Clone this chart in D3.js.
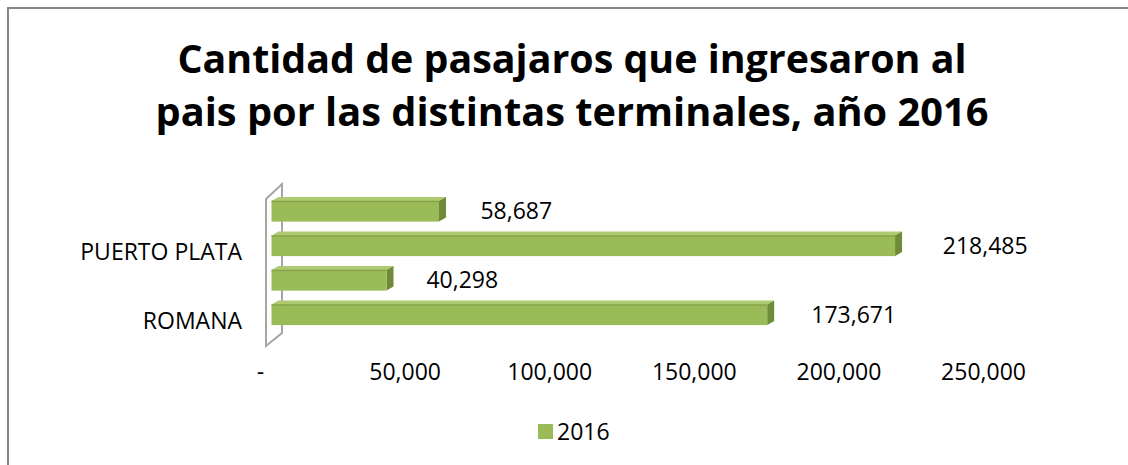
<!DOCTYPE html>
<html>
<head>
<meta charset="utf-8">
<script src="https://cdn.jsdelivr.net/npm/d3@7"></script>
<style>
  body { margin: 0; background: #fff; }
  text { font-family: "Open Sans", sans-serif; fill: #000; }
</style>
</head>
<body>
<svg id="chart" width="1128" height="465"></svg>
<script>
// data, top bar first (as drawn)
var categories = ["", "PUERTO PLATA", "", "ROMANA"];
var values2016 = [58687, 218485, 40298, 173671];
var xTicks = [0, 50000, 100000, 150000, 200000, 250000];
var seriesName = "2016";
var titleLines = ["Cantidad de pasajaros que ingresaron al",
                  "pais por las distintas terminales, año 2016"];

var svg = d3.select("#chart");

// outer border
svg.append("rect").attr("x", 8).attr("y", 8).attr("width", 1140).attr("height", 480)
    .attr("fill", "#fff").attr("stroke", "#868686").attr("stroke-width", 2);

// title
var titleWidths = [789, 833];
svg.selectAll("text.title").data(titleLines).enter().append("text")
    .attr("class", "title")
    .attr("x", 572).attr("y", function (d, i) { return 73 + i * 53; })
    .attr("text-anchor", "middle")
    .style("font-weight", "bold").style("font-size", "39px")
    .text(function (d) { return d; })
    .each(function (d, i) {
        var w = this.getComputedTextLength();
        if (Math.abs(w - titleWidths[i]) > 4) {
            d3.select(this).attr("textLength", titleWidths[i]).attr("lengthAdjust", "spacingAndGlyphs");
        }
    });

// scales
var x = d3.scaleLinear().domain([0, 250000]).range([271.5, 985]);
var xLabel = d3.scaleLinear().domain([0, 250000]).range([260, 983]);      // projected tick labels
var valLabel = d3.scaleLinear().domain([0, 250000]).range([344, 1077.75]); // projected data labels
var y = d3.scaleBand().domain(d3.range(categories.length))
    .range([194, 332]).paddingInner(0.4).paddingOuter(0.2);

var dx = 7, dy = 4; // bar depth

// 3D wall
var x0 = x(0);
var wallTop = y.range()[0] + 5, wallBot = y.range()[1] + 14;
svg.append("path")
    .attr("d", "M" + (x0 - 5.5) + "," + wallTop + "L" + (x0 + 10.5) + "," + (wallTop - 15) +
        "L" + (x0 + 10.5) + "," + (wallBot - 13) + "L" + (x0 - 5.5) + "," + wallBot + "Z")
    .attr("fill", "none").attr("stroke", "#a6a6a6").attr("stroke-width", 2);

// bars
var bars = svg.selectAll("g.bar").data(values2016).enter().append("g").attr("class", "bar");
bars.append("path") // top face
    .attr("d", function (d, i) {
        var t = y(i), xe = x(d);
        return "M" + x0 + "," + t + "L" + (x0 + dx) + "," + (t - dy) + "L" + (xe + dx) + "," + (t - dy) + "L" + xe + "," + t + "Z";
    })
    .attr("fill", "#aecb72");
bars.append("path") // side face
    .attr("d", function (d, i) {
        var t = y(i), b = t + y.bandwidth(), xe = x(d);
        return "M" + xe + "," + t + "L" + (xe + dx) + "," + (t - dy) + "L" + (xe + dx) + "," + (b - dy) + "L" + xe + "," + b + "Z";
    })
    .attr("fill", "#6f8b37");
bars.append("rect") // front face
    .attr("x", x0).attr("y", function (d, i) { return y(i); })
    .attr("width", function (d) { return x(d) - x0; })
    .attr("height", y.bandwidth())
    .attr("fill", "#9bbb59");
bars.append("line")
    .attr("x1", x0).attr("x2", function (d) { return x(d); })
    .attr("y1", function (d, i) { return y(i) + 0.5; }).attr("y2", function (d, i) { return y(i) + 0.5; })
    .attr("stroke", "#86a447").attr("stroke-width", 1.5);

// data labels
svg.selectAll("text.val").data(values2016).enter().append("text")
    .attr("class", "val")
    .attr("x", function (d) { return valLabel(d); })
    .attr("y", function (d, i) { return y(i) + y.bandwidth() / 2 + 8; })
    .attr("text-anchor", "middle").style("font-size", "23px")
    .text(d3.format(","));

// category axis
var yAxis = svg.append("g").attr("transform", "translate(242,7)")
    .call(d3.axisLeft(y).tickSize(0).tickPadding(0).tickFormat(function (i) { return categories[i]; }));
yAxis.select(".domain").remove();
yAxis.selectAll("text").style("font-size", "23px").style("font-family", "Open Sans").attr("fill", "#000");

// value axis
var xAxis = svg.append("g").attr("transform", "translate(0,364)")
    .call(d3.axisBottom(xLabel).tickValues(xTicks).tickSize(0).tickPadding(0)
        .tickFormat(function (d) { return d === 0 ? "-" : d3.format(",")(d); }));
xAxis.select(".domain").remove();
xAxis.selectAll("text").style("font-size", "23px").style("font-family", "Open Sans").attr("fill", "#000");

// legend
var legend = svg.append("g").attr("transform", "translate(538,424)");
legend.append("rect").attr("width", 15).attr("height", 15).attr("fill", "#9bbb59");
legend.append("text").attr("x", 19).attr("y", 16).style("font-size", "23px").text(seriesName);
</script>
</body>
</html>
